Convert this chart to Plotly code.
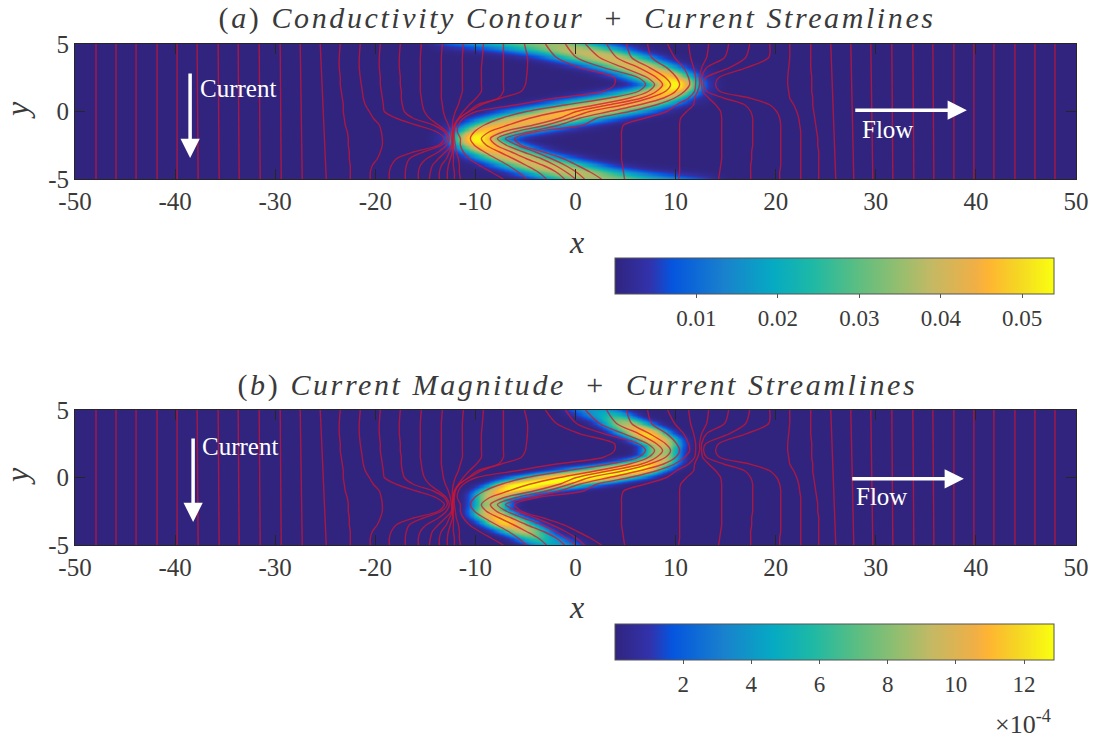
import numpy as np
import plotly.graph_objects as go

# ---------- values ----------
cscale = [[0, "rgb(48,36,126)"], [.08, "rgb(50,50,172)"], [.13, "rgb(5,85,222)"], [.25, "rgb(25,130,205)"],
          [.36, "rgb(5,170,195)"], [.45, "rgb(30,185,165)"], [.55, "rgb(90,190,130)"], [.65, "rgb(150,190,110)"],
          [.72, "rgb(195,185,100)"], [.82, "rgb(240,175,70)"], [.85, "rgb(255,180,50)"], [.92, "rgb(245,215,35)"],
          [1, "rgb(250,255,15)"]]

ridge_a_x = [12, 7, 3, 0.5, -3.2, -6.3, -8.7, -10, -8.7, -6.5, -3, 0, 3, 6.5, 8.7, 10, 8.7, 6.3, 3.2, -.5, -3, -7, -12]
ridge_a_y = [-5.8, -5.4, -5, -4.6, -4, -3.3, -2.6, -2, -1.4, -.9, -.4, 0, .4, .9, 1.4, 2, 2.6, 3.3, 4, 4.6, 5, 5.4, 5.8]
ridge_a_v = [.022, .028, .034, .038, .040, .042, .047, .054, .047, .044, .045, .046, .045, .044, .047, .054, .047, .042, .040, .038, .034, .028, .022]
halo_a_x = [-12, 12]
halo_a_y = [-2, 2]
halo_a_v = [.0035, .0035]

ridge_b_x = [-1, -3.2, -5, -7.2, -8.6, -8.5, -8.4, -6.5, -3, 0, 3, 6.5, 8.4, 8.5, 8.6, 7.2, 5, 3.2, 1]
ridge_b_y = [-5.2, -4.6, -3.9, -3.2, -2.6, -2, -1.3, -.75, -.3, 0, .3, .75, 1.3, 2, 2.6, 3.2, 3.9, 4.6, 5.2]
ridge_b_v = [3, 5, 9, 12, 10, 8.5, 9.5, 12.88, 12.88, 12.88, 12.88, 12.88, 9.5, 8.5, 10, 12, 9, 5, 3]

stream_y = [5, 4, 3.25, 2.5, 2, 1.5, 1, .5, 0, -.5, -1, -1.5, -2, -2.5, -3, -3.5, -4, -4.5, -5]
stream_x = [
    [-23.5, -23.6, -23.6, -23.5, -23.5, -23.4, -23.3, -23.2, -23.2, -23.1, -23, -22.8, -22.7, -22.7, -22.6, -22.6, -22.5, -22.5, -22.5],
    [-21.5, -21.6, -21.6, -21.5, -21.4, -21.3, -21.2, -21, -20.6, -20.2, -19.6, -19.4, -19.3, -19.3, -19.5, -19.8, -20.3, -20.5, -20.5],
    [-19.5, -19.6, -19.6, -19.5, -19.5, -19.4, -19.3, -19.2, -19.1, -17.9, -15.9, -13.9, -13.1, -13.7, -16.2, -17.9, -18.4, -18.6, -18.6],
    [-17.5, -17.6, -17.6, -17.5, -17.5, -17.4, -17.4, -17.3, -17.1, -16.2, -14.2, -13.1, -12.8, -13.4, -15.2, -16.6, -16.9, -17, -17],
    [-15.4, -15.5, -15.5, -15.5, -15.5, -15.5, -15.4, -15.3, -15.1, -14.6, -13.7, -12.9, -12.6, -12.9, -13.7, -14.9, -15.5, -15.7, -15.7],
    [-13.3, -13.4, -13.4, -13.4, -13.4, -13.4, -13.4, -13.3, -13.2, -13, -12.7, -12.5, -12.4, -12.4, -13, -13.7, -14.3, -14.5, -14.6],
    [-11.2, -11.3, -11.3, -11.3, -11.3, -11.3, -11.5, -11.7, -12, -12.2, -12.3, -12.3, -12.3, -12.3, -12.6, -12.9, -13.4, -13.6, -13.6],
    [-9.2, -9.3, -9.4, -9.4, -9.4, -9.4, -9.9, -10.6, -11.2, -11.7, -12.1, -12.2, -12.3, -12.3, -12.3, -12.5, -12.7, -12.8, -12.8],
    [-7.2, -7.2, -7.2, -7.2, -7.2, -7.2, -7.7, -9.8, -10.7, -11.6, -12.1, -12.2, -12.2, -12.2, -12.2, -12.2, -12.2, -12.1, -12.1],
    [-5.1, -4.8, -4.8, -4.9, -5, -5.4, -7.4, -9.4, -10.6, -11.6, -12, -12.1, -12.1, -12, -11.9, -11.7, -11.6, -11.6, -11.5],
    [-3, -1.9, .4, 3.9, 3.9, 2.8, -1.9, -5.9, -9.9, -11.2, -11.7, -11.8, -11.5, -11.5, -11.2, -10.6, -9.6, -8.4, -7.2],
    [-1, .1, 2.8, 6.3, 7, 6.3, 3.4, -.9, -4.9, -7.4, -9.1, -10.1, -10.5, -10.1, -9.1, -7.9, -6.7, -5.7, -4.9],
    [1, 2.4, 4.8, 7.2, 7.9, 7.3, 5.4, 2.1, -1.6, -4.6, -6.7, -8.6, -9.4, -8.9, -7.6, -6.2, -4.9, -3.7, -2.9],
    [3.1, 4.1, 6.3, 8.1, 8.7, 8.1, 6.6, 3.4, .1, -1.6, -4.2, -7.2, -8.5, -7.9, -6.4, -4.9, -3.2, -1.9, -1.1],
    [5.1, 5.6, 7.4, 9, 9.5, 9, 7.4, 4.8, 1.4, -.6, -2.9, -6, -7.8, -6.9, -5.2, -3.4, -2, -.9, 0],
    [7.2, 7.6, 9.1, 10.1, 10.4, 10, 8.8, 6.4, 3.4, .4, -1.6, -4.6, -7, -5.8, -4, -2.4, -1, .1, .9],
    [9.2, 9.9, 10.8, 11.3, 11.4, 10.9, 9.9, 8.1, 5.4, 2.1, .8, -3.9, -6.1, -5.4, -3.2, -1.2, .2, 1.5, 2.6],
    [11.3, 11.5, 11.8, 12, 12, 11.9, 11.3, 10.1, 9.1, 6.9, 4.8, 4.6, 4.6, 4.6, 4.6, 4.6, 4.7, 4.8, 4.9],
    [13.3, 13.1, 12.6, 12.4, 12.4, 12.2, 11.9, 11.8, 11.1, 10.5, 10.4, 10.4, 10.4, 10.4, 10.4, 10.4, 10.4, 10.4, 10.3],
    [15.3, 14.9, 13.1, 12.6, 12.6, 12.7, 13.3, 14, 14.5, 14.6, 14.6, 14.6, 14.6, 14.6, 14.6, 14.6, 14.5, 14.4, 14.3],
    [17.4, 17, 15.4, 13, 12.8, 13.1, 14.8, 16.9, 17.5, 17.7, 17.7, 17.7, 17.7, 17.7, 17.6, 17.6, 17.5, 17.5, 17.5],
    [19.4, 19.3, 17.1, 14.3, 14, 14.4, 17.4, 19.4, 20.1, 20.4, 20.5, 20.5, 20.5, 20.5, 20.5, 20.5, 20.5, 20.4, 20.4],
    [21.4, 21.4, 21.3, 21.2, 21.2, 21.3, 21.4, 21.8, 22.1, 22.3, 22.4, 22.5, 22.5, 22.5, 22.5, 22.5, 22.5, 22.5, 22.5],
    [23.5, 23.5, 23.5, 23.6, 23.6, 23.6, 23.7, 23.7, 23.8, 23.9, 24, 24.1, 24.2, 24.2, 24.3, 24.3, 24.3, 24.3, 24.3],
]
far_top = [-47.9, -45.9, -43.9, -41.8, -39.8, -37.8, -35.7, -33.7, -31.6, -29.5, -27.5, -25.5,
           25.5, 27.5, 29.5, 31.6, 33.7, 35.7, 37.8, 39.8, 41.8, 43.9, 45.9, 47.9]
far_bottom = [-47.9, -45.9, -43.9, -41.8, -39.8, -37.7, -35.6, -33.6, -31.5, -29.4, -27.3, -24.9,
              26, 27.8, 29.7, 31.7, 33.8, 35.8, 37.8, 39.8, 41.8, 43.9, 45.9, 47.9]
x_ticks = [-50, -40, -30, -20, -10, 0, 10, 20, 30, 40, 50]
y_ticks = [-5, 0, 5]
cb_a_ticks = [.01, .02, .03, .04, .05]
cb_b_ticks = [2, 4, 6, 8, 10, 12]

# ---------- build fields ----------
gx = np.linspace(-50, 50, 401)
gy = np.linspace(-5, 5, 121)
X, Y = np.meshgrid(gx, gy)


def dense(arr, n=480):
    a = np.interp(np.linspace(0, len(arr) - 1, n), np.arange(len(arr)), arr)
    k = np.ones(13) / 13
    return np.convolve(np.pad(a, 6, mode="edge"), k, mode="valid")


def field(rx, ry, rv, sx, sy, p):
    out = np.zeros_like(X)
    for xi, yi, vi in zip(dense(rx), dense(ry), dense(rv)):
        out = np.maximum(out, vi * np.exp(-(((X - xi) / sx) ** 2 + ((Y - yi) / sy) ** 2) ** p))
    return out


z_a = field(ridge_a_x, ridge_a_y, ridge_a_v, 2.4, .82, 1.2)
for hx, hy, hv in zip(halo_a_x, halo_a_y, halo_a_v):
    z_a = np.maximum(z_a, hv * np.exp(-(((X - hx) / 2.2) ** 2 + ((Y - hy) / 1.35) ** 2) ** 2))
z_b = field(ridge_b_x, ridge_b_y, ridge_b_v, 1.85, .62, 1.3)

W, H = 1096, 740
AX_L, AX_R = 75 / W, 1076 / W
SERIF = "Liberation Serif"
INK = "#3a3a3a"

fig = go.Figure()


def add_panel(z, xa, ya, zmax, ticks, ticktext, cb_y):
    fig.add_trace(go.Heatmap(
        x=gx, y=gy, z=np.round(z, 6), xaxis=xa, yaxis=ya, zmin=0, zmax=zmax, zsmooth="best",
        colorscale=cscale, hoverinfo="skip",
        colorbar=dict(orientation="h", x=615 / W, xanchor="left", y=1 - cb_y / H, yanchor="top",
                      len=439, lenmode="pixels", thickness=36, thicknessmode="pixels",
                      outlinecolor="#555555", outlinewidth=1, tickvals=ticks, ticktext=ticktext, ticks="outside",
                      ticklen=4, tickcolor="#555555", tickfont=dict(family=SERIF, size=23, color=INK),
                      xpad=0, ypad=0)))
    for sx_line in stream_x:
        fig.add_trace(go.Scatter(x=sx_line, y=stream_y, xaxis=xa, yaxis=ya, mode="lines", hoverinfo="skip",
                                 showlegend=False,
                                 line=dict(color="rgba(210,20,50,.75)", width=1.4, shape="spline", smoothing=.8)))
    for t, b in zip(far_top, far_bottom):
        fig.add_trace(go.Scatter(x=[t, b], y=[5, -5], xaxis=xa, yaxis=ya, mode="lines", hoverinfo="skip",
                                 showlegend=False, line=dict(color="rgba(210,20,50,.75)", width=1.4)))


add_panel(z_a, "x", "y", .0539, cb_a_ticks, ["0.01", "0.02", "0.03", "0.04", "0.05"], 258)
add_panel(z_b, "x2", "y2", 12.88, cb_b_ticks, [str(v) for v in cb_b_ticks], 624)

axis_common = dict(range=[-50, 50], tickvals=x_ticks, ticktext=[str(v) for v in x_ticks], ticks="inside", ticklen=10,
                   tickcolor="#262626", tickwidth=1, linecolor="#262626", linewidth=1, mirror="ticks",
                   showgrid=False, zeroline=False, layer="above traces",
                   tickfont=dict(family=SERIF, size=25, color=INK))
yaxis_common = dict(range=[-5, 5], tickvals=y_ticks, ticktext=[str(v) for v in y_ticks], ticks="inside", ticklen=10,
                    tickcolor="#262626", tickwidth=1, linecolor="#262626", linewidth=1, mirror="ticks",
                    showgrid=False, zeroline=False, layer="above traces",
                    tickfont=dict(family=SERIF, size=25, color=INK))

annotations = []


def note(text, px, py, size, color=INK, angle=0):
    annotations.append(dict(text=text, x=px / W, y=1 - py / H, xref="paper", yref="paper", showarrow=False,
                            xanchor="center", yanchor="middle", textangle=angle,
                            font=dict(family=SERIF, size=size, color=color)))


def arrow(xa, ya, x0, y0, x1, y1):
    annotations.append(dict(x=x1, y=y1, ax=x0, ay=y0, xref=xa, yref=ya, axref=xa, ayref=ya, text="",
                            showarrow=True, arrowhead=2, arrowsize=1.1, arrowwidth=3.5, arrowcolor="white"))


def label(xa, ya, text, x, y):
    annotations.append(dict(x=x, y=y, xref=xa, yref=ya, text=text, showarrow=False,
                            font=dict(family=SERIF, size=25, color="white")))


note("(<i>a</i>) <i>Conductivity Contour</i>  +  <i>Current Streamlines</i>", 577, 18, 30)
note("(<i>b</i>) <i>Current Magnitude</i>  +  <i>Current Streamlines</i>", 577, 385, 30)
note("<i>x</i>", 576, 242, 32)
note("<i>x</i>", 576, 607, 32)
note("<i>y</i>", 17, 110, 32, angle=-90)
note("<i>y</i>", 17, 476, 32, angle=-90)
note("×10<sup>-4</sup>", 1023, 722, 26)

arrow("x", "y", -38.5, 2.93, -38.5, -3.44)
arrow("x", "y", 27.8, .1, 39.1, .1)
label("x", "y", "Current", -33.7, 1.74)
label("x", "y", "Flow", 31.2, -1.3)
arrow("x2", "y2", -38.2, 3, -38.2, -3.3)
arrow("x2", "y2", 27.5, -.1, 38.8, -.1)
label("x2", "y2", "Current", -33.5, 2.26)
label("x2", "y2", "Flow", 30.6, -1.4)

fig.update_layout(
    width=W, height=H, margin=dict(l=0, r=0, t=0, b=0, autoexpand=False), paper_bgcolor="white",
    plot_bgcolor="#30247e", showlegend=False, annotations=annotations,
    xaxis=dict(domain=[AX_L, AX_R], anchor="y", **axis_common),
    yaxis=dict(domain=[1 - 179 / H, 1 - 44 / H], anchor="x", **yaxis_common),
    xaxis2=dict(domain=[AX_L, AX_R], anchor="y2", **axis_common),
    yaxis2=dict(domain=[1 - 545 / H, 1 - 410 / H], anchor="x2", **yaxis_common),
)

page_fix = """
document.body.style.margin = '0';
document.querySelectorAll('.annotation-text').forEach(function(t){
  if (t.textContent.indexOf('Streamlines') >= 0) { t.style.letterSpacing = '2.6px'; }
});
"""
fig.write_html("out.html", post_script=page_fix, config={"displayModeBar": False})
